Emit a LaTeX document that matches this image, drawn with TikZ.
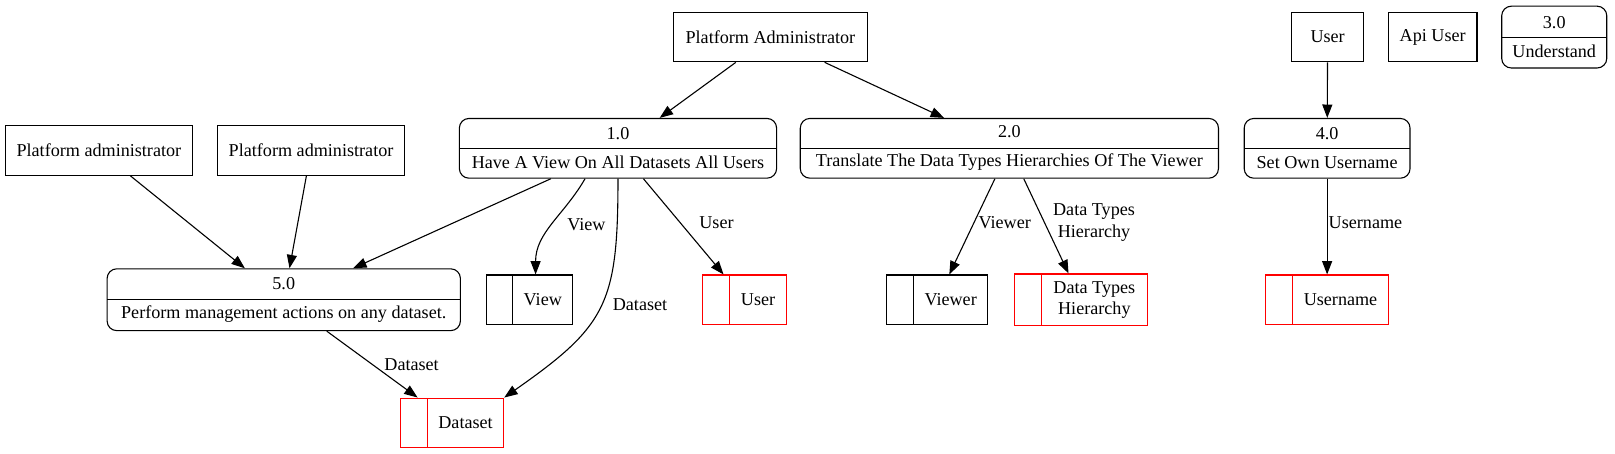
\documentclass[tikz,border=0pt]{standalone}
\usepackage{fontspec}
\setmainfont{Liberation Serif}
\usetikzlibrary{arrows.meta,calc}

\tikzset{
  entity/.style={draw,minimum width=#1,minimum height=36pt,inner sep=0pt},
  proc/.style={draw,rounded corners=7pt,minimum width=#1,minimum height=43.5pt,inner sep=0pt,align=center,
    path picture={\draw (path picture bounding box.west) -- (path picture bounding box.east);}},
  store/.style={draw=#1,minimum height=36pt,inner sep=0pt,
    execute at begin node={\hspace*{19.5pt}},
    path picture={\draw[#1] ([xshift=19.5pt]path picture bounding box.north west)
      -- ([xshift=19.5pt]path picture bounding box.south west);}},
  flow/.style={-{Triangle[length=9.75pt,width=7.3pt]}},
  lbl/.style={inner sep=0pt,align=center}
}

\begin{document}
\begin{tikzpicture}[x=0.75pt,y=-0.75pt,line width=0.8pt,
  every node/.style={font=\fontsize{13.2}{15.8}\selectfont}]
\useasboundingbox (0,0) rectangle (1568,440);

\node[entity=141pt] (pa) at (748,36) {Platform Administrator};
\node[entity=52.5pt] (usr) at (1289,36) {User};
\node[entity=64.5pt] (api) at (1391,36) {Api User};
\node[proc=76.5pt,minimum height=45pt] (p3) at (1509,36) {3.0\\[5.6pt]Understand};

\node[entity=136.5pt] (pa1) at (96,146) {Platform administrator};
\node[entity=136.5pt] (pa2) at (302,146) {Platform administrator};
\node[proc=231pt] (p1) at (600,144) {1.0\\[5.2pt]Have A View On All Datasets All Users};
\node[proc=304.5pt] (p2) at (980,144) {2.0\\[5.2pt]Translate The Data Types Hierarchies Of The Viewer};
\node[proc=120.75pt] (p4) at (1288.5,144) {4.0\\[5.2pt]Set Own Username};

\node[proc=257.25pt,minimum height=45pt] (p5) at (275.5,291) {5.0\\[5.6pt]Perform management actions on any dataset.};
\node[store=black,minimum width=63pt] (sview) at (514,291) {View};
\node[store=red,minimum width=61.5pt] (suser) at (723,291) {User};
\node[store=black,minimum width=73.5pt] (sviewer) at (910,291) {Viewer};
\node[store=red,minimum width=96.75pt,minimum height=37.5pt] (stypes) at (1049.5,291)
  {\begin{tabular}{@{}c@{}}Data Types\\Hierarchy\end{tabular}};
\node[store=red,minimum width=89.25pt] (susername) at (1288.5,291) {Username};
\node[store=red,minimum width=75pt] (sdataset) at (439,410.5) {Dataset};

\draw[flow] (pa) -- (p1);
\draw[flow] (pa) -- (p2);
\draw[flow] (usr) -- (p4);
\draw[flow] (pa1) -- (p5);
\draw[flow] (pa2) -- (p5);
\draw[flow] (p1) -- (p5);
\draw[flow] ($(p1.south)+(-32,0)$) to[out=-120,in=90] node[lbl,pos=.5,right=10.5pt] {View} ($(sview.north)+(6,0)$);
\draw[flow] (p1.south) to[out=-90,in=35,looseness=1.3] node[lbl,pos=.48,right=8pt] {Dataset} (sdataset.north east);
\draw[flow] (p1) -- node[lbl,pos=.46,right=13.5pt] {User} (suser);
\draw[flow] (p2) -- node[lbl,pos=.46,right=3pt] {Viewer} (sviewer);
\draw[flow] (p2) -- node[lbl,pos=.46,right=6pt] {Data Types\\Hierarchy} (stypes);
\draw[flow] (p4) -- node[lbl,pos=.46,right=.75pt] {Username} (susername);
\draw[flow] (p5) -- node[lbl,pos=.5,right=8.5pt] {Dataset} (sdataset);

\end{tikzpicture}
\end{document}
